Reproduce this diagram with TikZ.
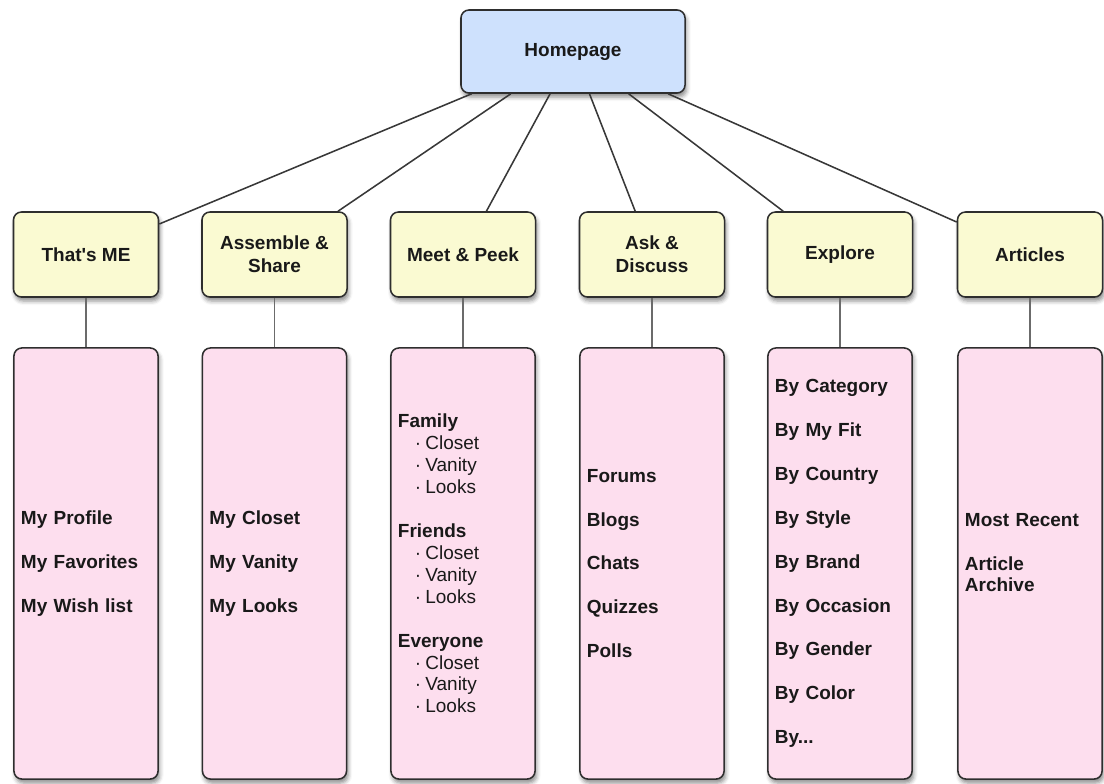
\documentclass[tikz,border=0pt]{standalone}
\usepackage{fontspec}
\setmainfont{Liberation Sans}
\usepackage{xcolor}
\usepackage{tikz}
\usetikzlibrary{shadows, shadows.blur}

\definecolor{homeblue}{RGB}{206,225,253}
\definecolor{catyellow}{RGB}{250,250,210}
\definecolor{listpink}{RGB}{253,222,238}

% one indented entry under a group heading
\newcommand{\peekitem}[1]{\hspace*{12pt}{\mdseries\textperiodcentered\hspace{3pt}#1}}

\begin{document}
\begin{tikzpicture}[
        x=0.025cm, y=-0.025cm, % <--- coordinates are counted in pixels, top down
        % common look of every box
        box/.style={
            rectangle, draw=black!82, line width=1.1pt, rounded corners=0.2cm,
            text=black!90,
            blur shadow={shadow xshift=0.04cm, shadow yshift=-0.1cm,
                shadow blur radius=0.1cm, shadow opacity=45}
        },
        homebox/.style={
            box, fill=homeblue,
            minimum width=5.6cm, minimum height=2.075cm,
            font=\fontsize{13.5}{15.6}\selectfont\bfseries
        },
        catbox/.style={
            box, fill=catyellow,
            minimum width=3.625cm, minimum height=2.125cm,
            align=center, font=\fontsize{13.5}{16.4}\selectfont\bfseries
        },
        listbox/.style={
            box, fill=listpink,
            text width=92.5pt, inner xsep=5pt, minimum height=10.775cm,
            align=left, font=\fontsize{13.5}{15.6}\selectfont\bfseries
        },
        link/.style={draw=black!78, line width=1.1pt},
        stem/.style={draw=black!58, line width=1.4pt}
    ]
    \useasboundingbox (0, 0) rectangle (1104, 783);

        % ==========================
        % TOP
        % ==========================
        \node[homebox] (home) at (573, 51.5) {Homepage};

        % ==========================
        % SECTIONS
        % ==========================
        \node[catbox] (me)       at (86, 254.5)   {That\textquotesingle s ME};
        \node[catbox] (share)    at (274.5, 254.5) {Assemble \&\\Share};
        \node[catbox] (peek)     at (463, 254.5)  {Meet \& Peek};
        \node[catbox] (ask)      at (652, 254.5)  {Ask \&\\Discuss};
        \node[catbox] (explore)  at (840, 254.5)  {Explore};
        \node[catbox] (articles) at (1030, 254.5) {Articles};

        % ==========================
        % PAGE LISTS
        % ==========================
        \node[listbox] (meList) at (86, 563.5) {
            My Profile\\[15.6pt]
            My Favorites\\[15.6pt]
            My Wish list};
        \node[listbox] (shareList) at (274.5, 563.5) {
            My Closet\\[15.6pt]
            My Vanity\\[15.6pt]
            My Looks};
        \node[listbox] (peekList) at (463, 563.5) {
            Family\\
            \peekitem{Closet}\\
            \peekitem{Vanity}\\
            \peekitem{Looks}\\[15.6pt]
            Friends\\
            \peekitem{Closet}\\
            \peekitem{Vanity}\\
            \peekitem{Looks}\\[15.6pt]
            Everyone\\
            \peekitem{Closet}\\
            \peekitem{Vanity}\\
            \peekitem{Looks}};
        \node[listbox] (askList) at (652, 563.5) {
            Forums\\[15.6pt]
            Blogs\\[15.6pt]
            Chats\\[15.6pt]
            Quizzes\\[15.6pt]
            Polls};
        \node[listbox] (exploreList) at (840, 563.5) {
            By Category\\[15.6pt]
            By My Fit\\[15.6pt]
            By Country\\[15.6pt]
            By Style\\[15.6pt]
            By Brand\\[15.6pt]
            By Occasion\\[15.6pt]
            By Gender\\[15.6pt]
            By Color\\[15.6pt]
            By...};
        \node[listbox] (articlesList) at (1030, 563.5) {
            Most Recent\\[15.6pt]
            Article\\
            Archive\\
            \mbox{}};

        % ==========================
        % CONNECTIONS
        % ==========================
        % Homepage -> sections
        \draw[link] (home) -- (me);
        \draw[link] (home) -- (share);
        \draw[link] (home) -- (peek);
        \draw[link] (home) -- (ask);
        \draw[link] (home) -- (explore);
        \draw[link] (home) -- (articles);

        % Sections -> their lists
        \draw[stem] (me) -- (meList);
        \draw[stem] (share) -- (shareList);
        \draw[stem] (peek) -- (peekList);
        \draw[stem] (ask) -- (askList);
        \draw[stem] (explore) -- (exploreList);
        \draw[stem] (articles) -- (articlesList);

    \end{tikzpicture}
\end{document}
